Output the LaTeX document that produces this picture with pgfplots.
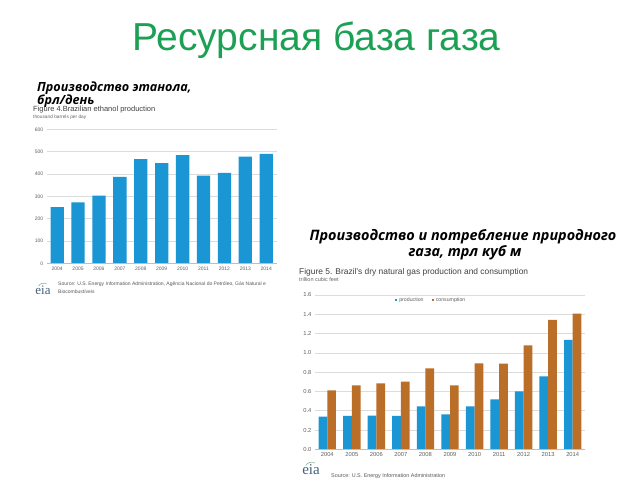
\documentclass[border=0pt]{standalone}
\usepackage{pgfplots}
\pgfplotsset{compat=1.18}
\usepackage{fontspec}
\setmainfont{Liberation Sans}
\newfontfamily\rufont{Open Sans}
\newfontfamily\logofont{Liberation Serif}
\definecolor{ttlgreen}{RGB}{28,160,84}
\definecolor{barblue}{RGB}{26,150,213}
\definecolor{barbrown}{RGB}{187,110,40}
\definecolor{gridc}{RGB}{220,220,220}
\definecolor{basec}{RGB}{190,190,190}
\definecolor{tickc}{RGB}{95,95,95}
\definecolor{logoc}{RGB}{70,95,125}
\definecolor{logoarc}{RGB}{120,170,150}
\pgfplotsset{
  eiastyle/.style={
    scale only axis,
    axis line style={draw=none},
    axis x line*=bottom,
    axis y line*=left,
    major tick length=0pt,
    ymajorgrids, grid style={gridc, line width=0.5pt},
    tick label style={text=tickc},
    /pgf/number format/assume math mode=true,
    xticklabel style={/pgf/number format/set thousands separator={}},
    xtick={2004,...,2014},
    xmin=2003.5, xmax=2014.5, ymin=0,
    clip=false,
  }
}
\newcommand{\eialogo}[2]{%
  \node[text=logoc, font=\logofont\fontsize{#2}{#2}\selectfont, inner sep=0pt] at (#1) {eia};
  \draw[logoarc, line width=0.5pt] ([xshift=-0.35*#2pt, yshift=0.3*#2pt]#1) arc[start angle=150, end angle=60, radius=0.45*#2pt];
}
\begin{document}
\begin{tikzpicture}[x=1pt,y=1pt]
\fill[white] (0,0) rectangle (640,480);
% main title
\node[text=ttlgreen, font=\fontsize{39}{42}\selectfont, inner sep=0pt] at (316.5,440) {Ресурсная база газа};

% ---------------- left chart ----------------
\node[anchor=west, text=black!75, font=\fontsize{7.5}{8}\selectfont, inner sep=0pt] at (33,370) {Figure 4.Brazilian ethanol production};
\node[anchor=west, text=black!60, font=\fontsize{4.8}{5}\selectfont, inner sep=0pt] at (33,363) {thousand barrels per day};
\node[anchor=west, font=\rufont\bfseries\itshape\fontsize{12.6}{15}\selectfont, inner sep=0pt] at (37,391.5) {Производство этанола,};
\node[anchor=west, font=\rufont\bfseries\itshape\fontsize{12.6}{15}\selectfont, inner sep=0pt] at (37,379) {брл/день};

\begin{axis}[eiastyle, at={(46.7pt,216.7pt)}, anchor=south west,
  width=230pt, height=134pt, ymax=600, ytick={0,100,...,600},
  tick label style={font=\fontsize{5}{6}\selectfont}]
\addplot[ybar, bar width=13.3pt, fill=barblue, draw=none] coordinates {
(2004,251) (2005,273) (2006,303) (2007,387) (2008,466) (2009,449)
(2010,484) (2011,393) (2012,405) (2013,478) (2014,490)};
\draw[basec, line width=0.6pt] (axis cs:2003.5,0) -- (axis cs:2014.5,0);
\end{axis}
\eialogo{43,190}{13}
\node[anchor=west, text=black!65, font=\fontsize{5}{6}\selectfont, inner sep=0pt] at (58,195.5) {Source: U.S. Energy Information Administration, Agência Nacional do Petróleo, Gás Natural e};
\node[anchor=west, text=black!65, font=\fontsize{5}{6}\selectfont, inner sep=0pt] at (58,188.5) {Biocombustíveis};

% ---------------- right chart ----------------
\node[font=\rufont\bfseries\itshape\fontsize{14.4}{16}\selectfont, inner sep=0pt] at (463,243.3) {Производство и потребление природного};
\node[font=\rufont\bfseries\itshape\fontsize{14.4}{16}\selectfont, inner sep=0pt] at (465,227) {газа, трл куб м};
\node[anchor=west, text=black!75, font=\fontsize{8.4}{9}\selectfont, inner sep=0pt] at (299,207.3) {Figure 5. Brazil's dry natural gas production and consumption};
\node[anchor=west, text=black!60, font=\fontsize{5.5}{6}\selectfont, inner sep=0pt] at (299,200) {trillion cubic feet};

\begin{axis}[eiastyle, at={(315pt,30.7pt)}, anchor=south west,
  width=270pt, height=154.3pt, ymax=1.6, ytick={0,0.2,...,1.6},
  tick label style={font=\fontsize{5.8}{7}\selectfont},
  yticklabel style={/pgf/number format/.cd, fixed, fixed zerofill, precision=1},
  ybar=0pt, bar width=8.7pt,
  legend columns=2,
  legend style={at={(0.285,0.968)}, anchor=west, draw=none, fill=none,
    font=\fontsize{5.2}{6}\selectfont, text=tickc,
    /tikz/every even column/.append style={column sep=6pt}},
  legend image code/.code={\fill[#1] (0pt,-1.1pt) rectangle (2.2pt,1.1pt);},
]
\addplot[fill=barblue, draw=none] coordinates {
(2004,0.339) (2005,0.346) (2006,0.349) (2007,0.346) (2008,0.446) (2009,0.363)
(2010,0.446) (2011,0.518) (2012,0.601) (2013,0.757) (2014,1.135)};
\addplot[fill=barbrown, draw=none] coordinates {
(2004,0.612) (2005,0.663) (2006,0.684) (2007,0.701) (2008,0.840) (2009,0.663)
(2010,0.891) (2011,0.888) (2012,1.078) (2013,1.341) (2014,1.406)};
\legend{production, consumption}
\draw[basec, line width=0.6pt] (axis cs:2003.5,0) -- (axis cs:2014.5,0);
\end{axis}
\eialogo{311,10}{15}
\node[anchor=west, text=black!65, font=\fontsize{5.4}{6}\selectfont, inner sep=0pt] at (331,4) {Source: U.S. Energy Information Administration};
\end{tikzpicture}
\end{document}
